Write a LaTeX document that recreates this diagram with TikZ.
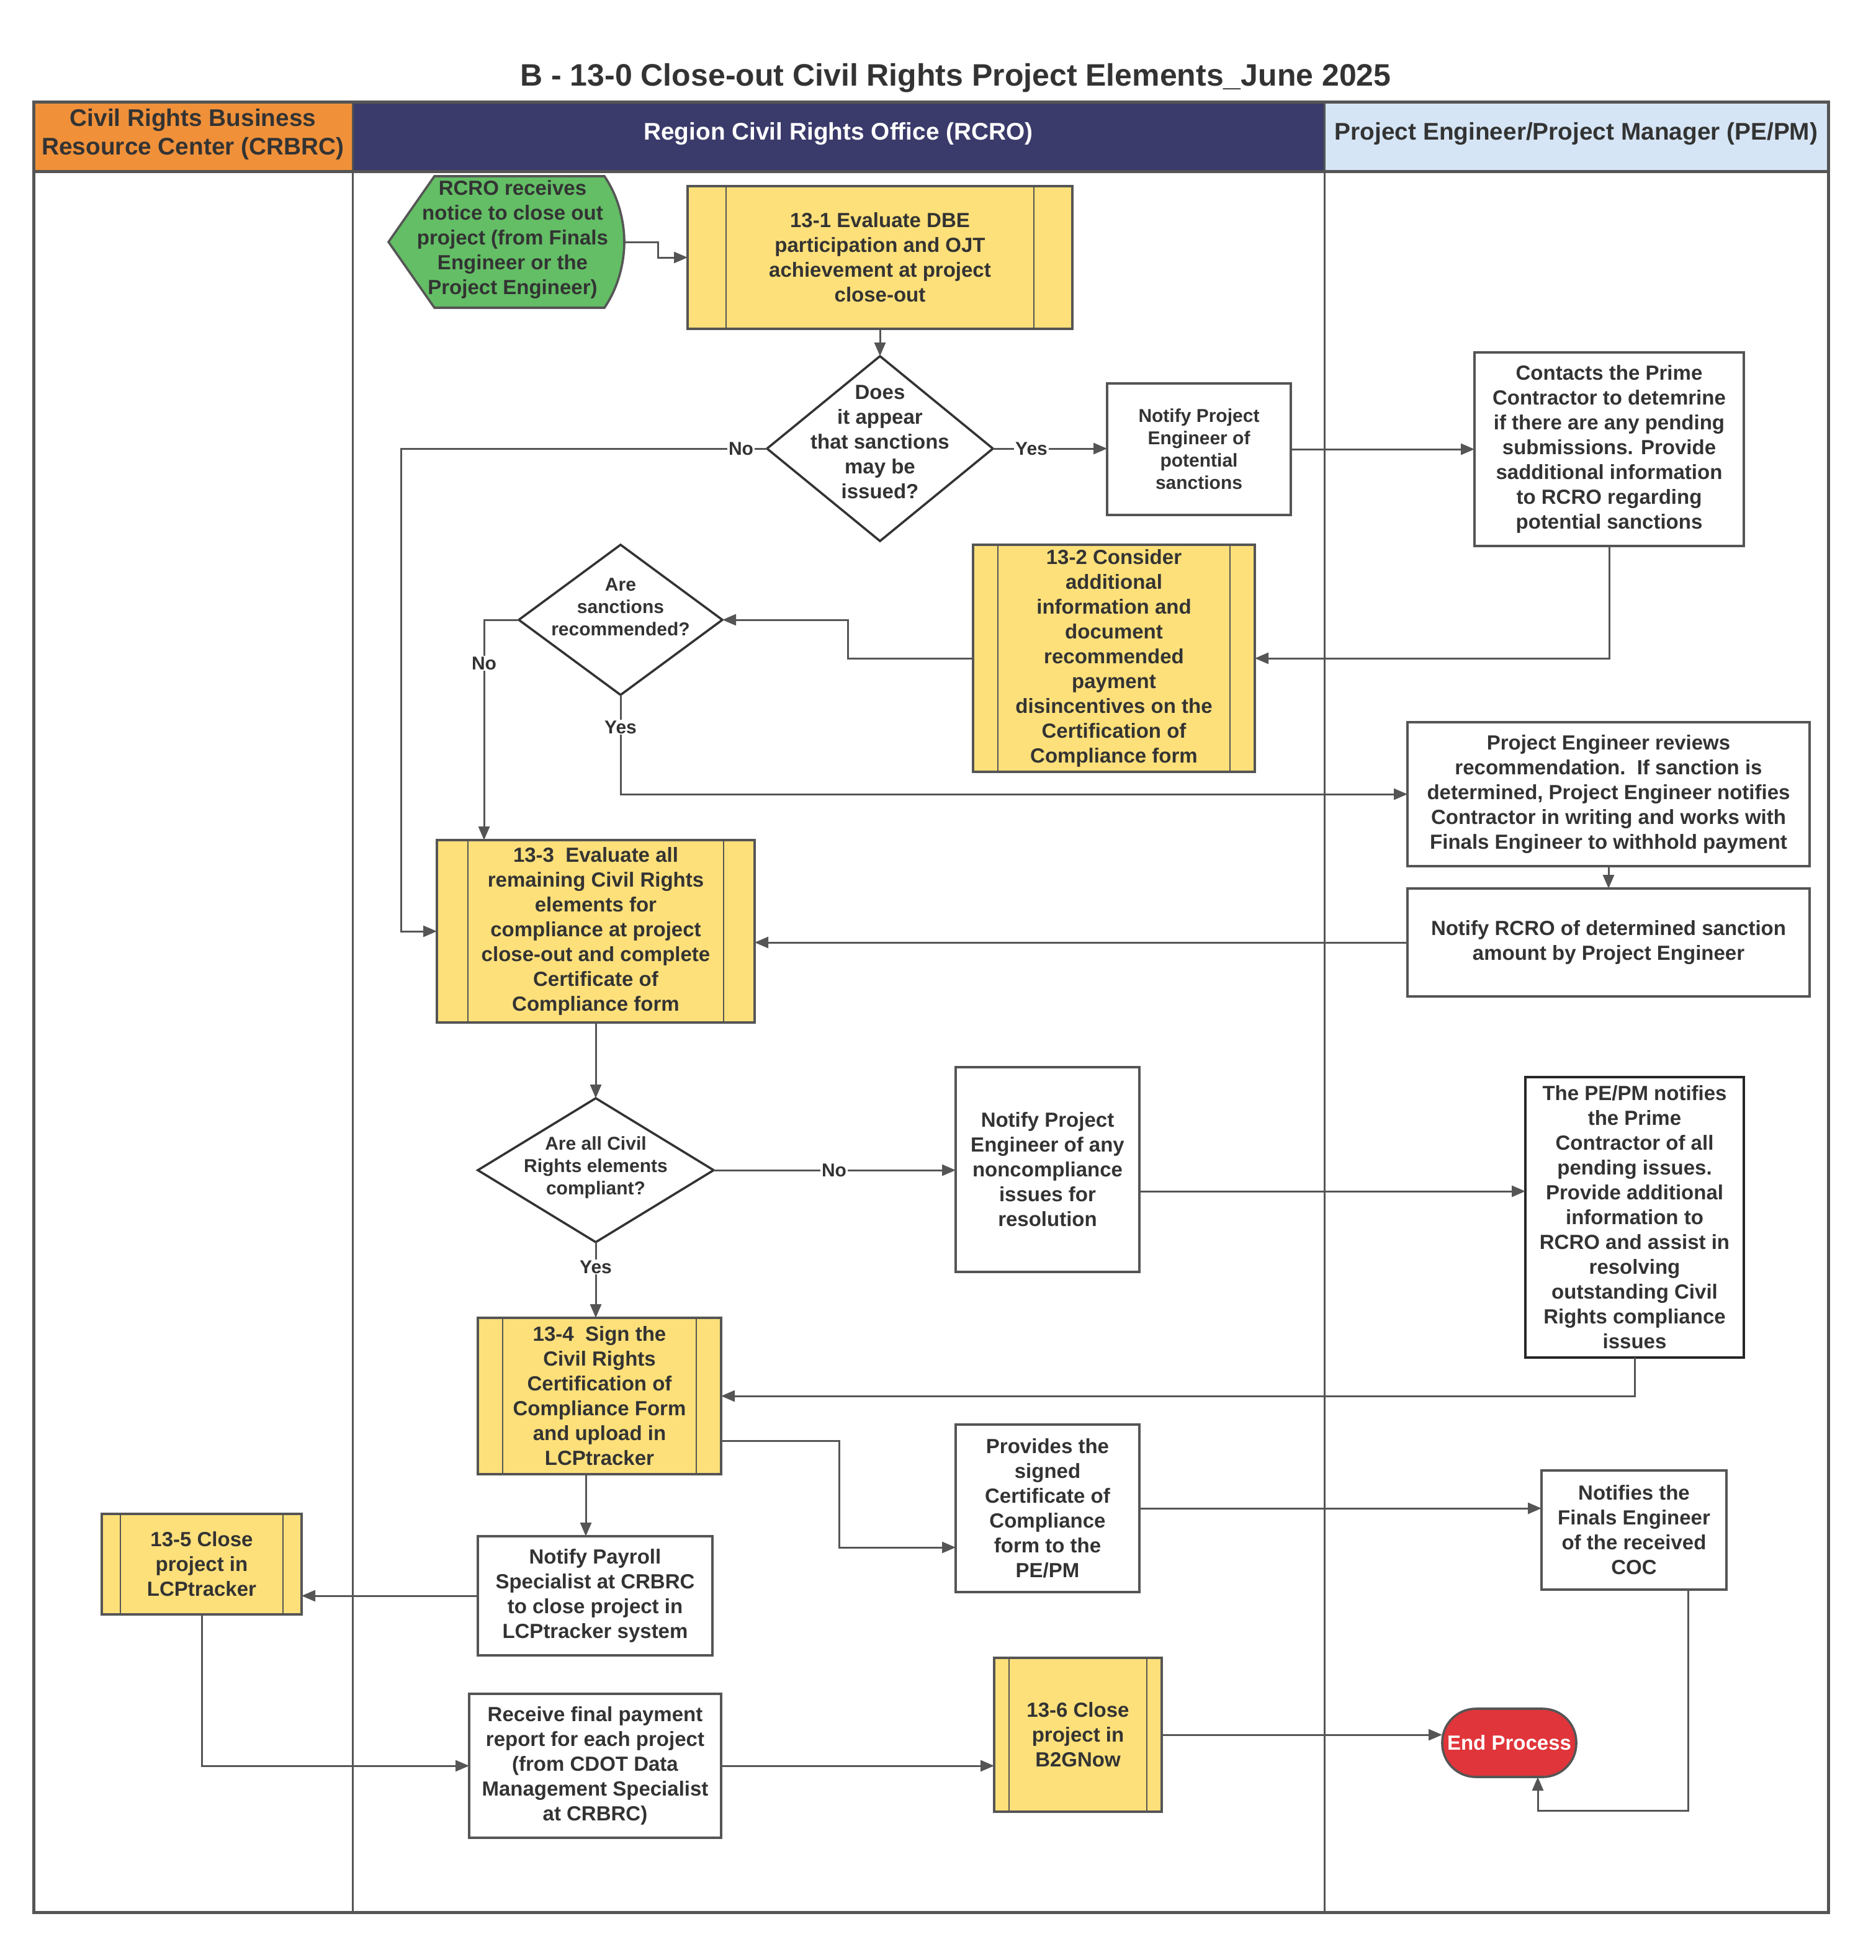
\documentclass[tikz,border=0pt]{standalone}
\usepackage{fontspec}
\setmainfont{Liberation Sans}
\usetikzlibrary{arrows.meta,calc,shapes.geometric}
\definecolor{lineC}{HTML}{555555}
\definecolor{txtC}{HTML}{333333}
\definecolor{yelC}{HTML}{FDE07A}
\definecolor{grnC}{HTML}{63BE65}
\definecolor{orgC}{HTML}{F0913A}
\definecolor{navC}{HTML}{3A3A6B}
\definecolor{lbC}{HTML}{D5E5F5}
\definecolor{redC}{HTML}{E0353A}
\begin{document}
\begin{tikzpicture}[x=1pt,y=-1pt,
 every node/.style={text=txtC, inner sep=0pt, outer sep=0pt},
 big/.style={font=\fontsize{16.5}{20}\selectfont\bfseries, align=center},
 small/.style={font=\fontsize{15}{18}\selectfont\bfseries, align=center},
 hdr/.style={font=\fontsize{19.4}{23}\selectfont\bfseries, align=center},
 box/.style={rectangle, draw=lineC, line width=1.8pt, fill=white},
 subproc/.style={rectangle, draw=lineC, line width=1.8pt, fill=yelC,
   path picture={\draw[lineC, line width=1.2pt]
     ([xshift=#1]path picture bounding box.north west) -- ([xshift=#1]path picture bounding box.south west)
     ([xshift=-#1]path picture bounding box.north east) -- ([xshift=-#1]path picture bounding box.south east);}},
 dec/.style={diamond, draw=txtC, line width=1.8pt, fill=white, inner sep=0pt},
 arr/.style={draw=lineC, line width=1.5pt, -{Triangle[length=11pt,width=9pt]}},
 lbl/.style={font=\fontsize{15}{18}\selectfont\bfseries, fill=white, inner sep=1pt}
]
\useasboundingbox (0,0) rectangle (1511.5,1579.5);

% title
\node[font=\fontsize{25}{30}\selectfont\bfseries] (title) at (770,63) {B - 13-0 Close-out Civil Rights Project Elements\_June 2025};

% lanes
\fill[orgC] (27,82) rectangle (284,138);
\fill[navC] (284,82) rectangle (1067,138);
\fill[lbC] (1067,82) rectangle (1473,138);
\draw[lineC, line width=1.5pt] (284,82) -- (284,1541) (1067,82) -- (1067,1541);
\draw[lineC, line width=2.5pt] (27,138) -- (1473,138);
\draw[lineC, line width=2.5pt] (27,82) rectangle (1473,1541);
\node[hdr] (h1) at (155.5,108) {Civil Rights Business\\Resource Center (CRBRC)};
\node[hdr, text=white] (h2) at (675.5,108) {Region Civil Rights Office (RCRO)};
\node[hdr] (h3) at (1270,108) {Project Engineer/Project Manager (PE/PM)};

% start shape
\draw[lineC, line width=1.8pt, fill=grnC] (313,195) -- (350,142) -- (487,142)
  .. controls (498,158) and (503,178) .. (503,195)
  .. controls (503,212) and (498,232) .. (487,248) -- (350,248) -- cycle;
\node[big] (start) at (413,193) {RCRO receives\\notice to close out\\project (from Finals\\Engineer or the\\Project Engineer)};
\coordinate (startR) at (503,195);

% RCRO lane nodes
\node[subproc=31pt, big, minimum width=310pt, minimum height=115pt] (s131) at (709,207.5) {13-1 Evaluate DBE\\participation and OJT\\achievement at project\\close-out};
\node[dec, minimum width=182pt, minimum height=149pt] (d1) at (709,361.5) {};
\node[big] (d1t) at (709,356) {Does\\it appear\\that sanctions\\may be\\issued?};
\node[box, small, minimum width=148pt, minimum height=106pt] (npe) at (966,362) {Notify Project\\Engineer of\\potential\\sanctions};
\node[subproc=20pt, big, minimum width=227pt, minimum height=183pt] (s132) at (897.5,530.5) {13-2 Consider\\additional\\information and\\document\\recommended\\payment\\disincentives on the\\Certification of\\Compliance form};
\node[dec, minimum width=164pt, minimum height=121pt] (d2) at (500,499.5) {};
\node[small] (d2t) at (500,489) {Are\\sanctions\\recommended?};
\node[subproc=25pt, big, minimum width=256pt, minimum height=147pt] (s133) at (480,750.5) {13-3\ \ Evaluate all\\remaining Civil Rights\\elements for\\compliance at project\\close-out and complete\\Certificate of\\Compliance form};
\node[dec, minimum width=190pt, minimum height=116pt] (d3) at (480,943) {};
\node[small] (d3t) at (480,941) {Are all Civil\\Rights elements\\compliant?};
\node[box, big, minimum width=148pt, minimum height=165pt] (nnc) at (844,942.5) {Notify Project\\Engineer of any\\noncompliance\\issues for\\resolution};
\node[subproc=20pt, big, minimum width=196pt, minimum height=126pt] (s134) at (483,1125) {13-4\ \ Sign the\\Civil Rights\\Certification of\\Compliance Form\\and upload in\\LCPtracker};
\node[box, big, minimum width=148pt, minimum height=135pt] (prov) at (844,1215.5) {Provides the\\signed\\Certificate of\\Compliance\\form to the\\PE/PM};
\node[box, big, minimum width=189pt, minimum height=96pt] (npay) at (479.5,1286) {Notify Payroll\\Specialist at CRBRC\\to close project in\\LCPtracker system};
\node[box, big, minimum width=203pt, minimum height=116pt] (rec) at (479.5,1423) {Receive final payment\\report for each project\\(from CDOT Data\\Management Specialist\\at CRBRC)};
\node[subproc=12pt, big, minimum width=135pt, minimum height=124pt] (s136) at (868.5,1398) {13-6 Close\\project in\\B2GNow};

% CRBRC lane
\node[subproc=15pt, big, minimum width=161pt, minimum height=81pt] (s135) at (162.5,1260.5) {13-5 Close\\project in\\LCPtracker};

% PE/PM lane
\node[box, big, minimum width=217pt, minimum height=156pt] (con) at (1296.5,362) {Contacts the Prime\\Contractor to detemrine\\if there are any pending\\submissions. Provide\\sadditional information\\to RCRO regarding\\potential sanctions};
\node[box, big, minimum width=324pt, minimum height=116pt] (per) at (1296,640) {Project Engineer reviews\\recommendation.\ \ If sanction is\\determined, Project Engineer notifies\\Contractor in writing and works with\\Finals Engineer to withhold payment};
\node[box, big, minimum width=324pt, minimum height=87pt] (rcro) at (1296,759.5) {Notify RCRO of determined sanction\\amount by Project Engineer};
\node[box, big, draw=black!85, minimum width=176pt, minimum height=226pt] (pepm) at (1317,981) {The PE/PM notifies\\the Prime\\Contractor of all\\pending issues.\\Provide additional\\information to\\RCRO and assist in\\resolving\\outstanding Civil\\Rights compliance\\issues};
\node[box, big, minimum width=149pt, minimum height=96pt] (nf) at (1316.5,1233) {Notifies the\\Finals Engineer\\of the received\\COC};
\node[rectangle, rounded corners=27pt, draw=lineC, line width=1.8pt, fill=redC, text=white, font=\fontsize{16.5}{20}\selectfont\bfseries, minimum width=108pt, minimum height=55pt] (endp) at (1216,1404.5) {End Process};

% connectors
\draw[arr] (startR) -- ++(27,0) |- (s131.west);
\draw[arr] (s131.south) -- (d1.north);
\draw[arr] (d1.west) -| ([xshift=-29pt]s133.west) -- (s133.west);
\draw[arr] (d1.east) -- (d1.east -| npe.west);
\draw[arr] (npe.east) -- (npe.east -| con.west);
\draw[arr] (con.south) |- (s132.east);
\draw[arr] (s132.west) -- ++(-101,0) |- (d2.east);
\draw[arr] (d2.west) -| ([xshift=-90pt]s133.north);
\draw[arr] (d2.south) |- (per.west);
\draw[arr] (per.south) -- (rcro.north);
\draw[arr] (rcro.west) -- (rcro.west -| s133.east);
\draw[arr] (s133.south) -- (d3.north);
\draw[arr] (d3.east) -- (d3.east -| nnc.west);
\draw[arr] ([yshift=-17.5pt]nnc.east) -- ([yshift=-17.5pt]nnc.east -| pepm.west);
\draw[arr] (pepm.south) |- (s134.east);
\draw[arr] (d3.south) -- (d3.south |- s134.north);
\draw[arr] ([yshift=-36pt]s134.east) -- ++(95,0) |- ([yshift=-31.5pt]prov.west);
\draw[arr] ([xshift=-11pt]s134.south) -- ([xshift=-7.5pt]npay.north);
\draw[arr] (prov.east) -- (prov.east -| nf.west);
\draw[arr] ([xshift=43.5pt]nf.south) -- ++(0,178) -| ([xshift=23pt]endp.south);
\draw[arr] (npay.west) -- (npay.west -| s135.east);
\draw[arr] (s135.south) |- (rec.west);
\draw[arr] (rec.east) -- (rec.east -| s136.west);
\draw[arr] (s136.east) -- (s136.east -| endp.west);

% connector labels
\node[lbl] (lno1) at ([xshift=-21pt]d1.west) {No};
\node[lbl] (lyes1) at ([xshift=31pt]d1.east) {Yes};
\node[lbl] (lno2) at ($(d2.west)+(-28,35)$) {No};
\node[lbl] (lyes2) at ($(d2.south)+(0,26)$) {Yes};
\node[lbl] (lno3) at ($(d3.east)+(97,0)$) {No};
\node[lbl] (lyes3) at ($(d3.south)+(0,20)$) {Yes};
\end{tikzpicture}
\end{document}
